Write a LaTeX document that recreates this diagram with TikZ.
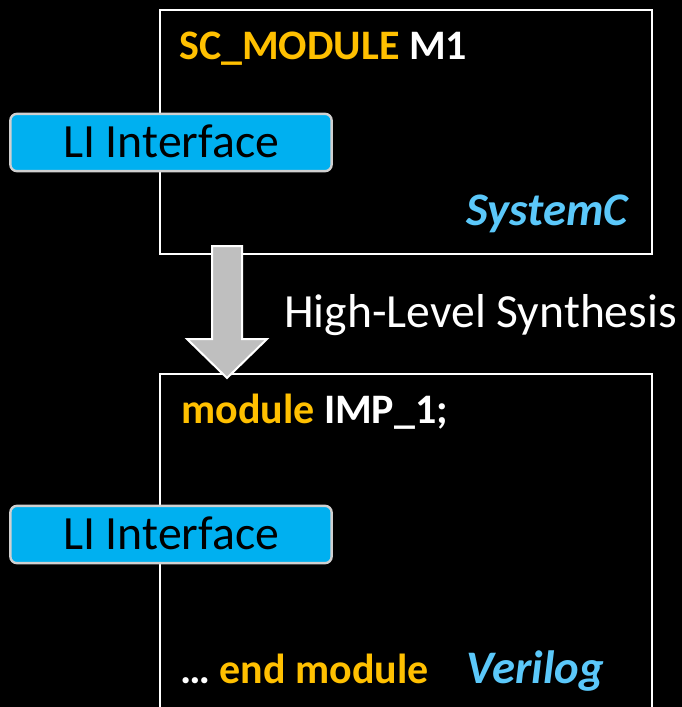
\documentclass[tikz,border=0pt]{standalone}
\usepackage{fontspec}
\setmainfont{Carlito}
\definecolor{kw}{HTML}{FFC000}
\definecolor{lang}{HTML}{5BC8FA}
\definecolor{pill}{HTML}{00B0F0}
\definecolor{pillrim}{HTML}{D0D0D0}
\definecolor{arrowfill}{HTML}{BFBFBF}
\begin{document}
\begin{tikzpicture}[x=0.75pt,y=-0.75pt,
  frame/.style={draw=white,line width=1.5pt},
  iface/.style={draw=pillrim,fill=pill,line width=1.8pt,rounded corners=5pt,
    minimum width=241pt,minimum height=43pt,inner sep=0pt,
    text height=22.5pt,text depth=0pt,
    font=\fontsize{35.8}{42}\selectfont,text=black},
  code/.style={anchor=base west,inner sep=0pt,text=white,
    font=\fontsize{31.5}{37}\selectfont\bfseries},
  langlabel/.style={anchor=base east,inner sep=0pt,text=lang,
    font=\fontsize{35}{42}\selectfont\bfseries\itshape},
  caption/.style={anchor=base west,inner sep=0pt,text=white,
    font=\fontsize{35.7}{42}\selectfont},
  blockarrow/.style={draw=white,fill=arrowfill,line width=1.5pt,line join=miter}]
% canvas
\fill[black] (0,0) rectangle (682,707);
\useasboundingbox (0,0) rectangle (682,707);

% SystemC module frame
\draw[frame] (160,10) rectangle (652,254);
% Verilog module frame, open at the bottom
\draw[frame] (160,712) -- (160,374) -- (652,374) -- (652,712);

% synthesis arrow between the two frames
\coordinate (arrowtop) at (227,246);
\coordinate (arrowtip) at (227,378);
\draw[blockarrow] (arrowtop) ++(-15,0) -- ++(30,0) -- ++(0,93) -- ++(25,0)
  -- (arrowtip) -- (187,339) -- ++(25,0) -- cycle;
\node[caption] (hls) at (284,327) {High-Level Synthesis};

% frame contents
\node[code] (scmod) at (179,59) {\textcolor{kw}{SC\_MODULE} M1};
\node[langlabel] (sysc) at (628,225) {SystemC};
\node[code] (vmod) at (181,423) {\textcolor{kw}{module} IMP\_1;};
\node[code] (vend) at (180,683) {\dots{} \textcolor{kw}{end module}};
\node[langlabel] (veri) at (604,683) {Verilog};

% interface tabs on the left edge
\node[iface] (li1) at (171,142.5) {LI Interface};
\node[iface] (li2) at (171,534.5) {LI Interface};
\end{tikzpicture}
\end{document}
